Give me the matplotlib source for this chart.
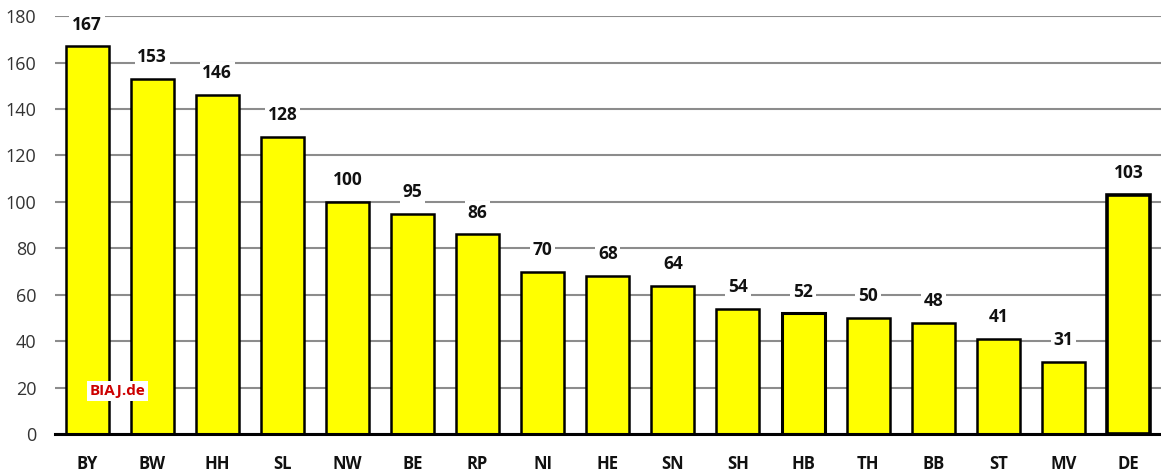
import matplotlib
matplotlib.use("Agg")
import matplotlib.pyplot as plt

categories = ["BY", "BW", "HH", "SL", "NW", "BE", "RP", "NI", "HE", "SN", "SH", "HB", "TH", "BB", "ST", "MV", "DE"]
values = [167, 153, 146, 128, 100, 95, 86, 70, 68, 64, 54, 52, 50, 48, 41, 31, 103]
yticks = [0, 20, 40, 60, 80, 100, 120, 140, 160, 180]

plt.rcParams['font.family'] = ['Open Sans', 'DejaVu Sans']

fig = plt.figure(figsize=(11.61, 4.75), dpi=100)
ax = fig.add_axes([0.047, 0.086, 0.953, 0.880])

x = list(range(len(categories)))
lws = [1.8] * len(categories)
lws[categories.index("HB")] = 2.2
lws[categories.index("DE")] = 2.6
bars = ax.bar(x, values, width=0.66, color="#FFFF00", edgecolor="black", linewidth=lws, zorder=3)

for xi, v in zip(x, values):
    ax.text(xi, v + 5.5, str(v), ha="center", va="bottom", fontsize=12.5, fontweight="bold",
            color="#111111", bbox=dict(facecolor="white", edgecolor="none", pad=2), zorder=4)

ax.set_xlim(-0.5, len(categories) - 0.5)
ax.set_ylim(0, 180)
ax.set_yticks(yticks)
ax.set_yticklabels([str(t) for t in yticks], fontsize=13, color="#333333")
ax.set_xticks(x)
ax.set_xticklabels(categories, fontsize=12, fontweight="bold", color="#111111")
ax.tick_params(axis="y", length=0, pad=13)
ax.tick_params(axis="x", length=0, pad=15)
ax.yaxis.grid(True, color="#8c8c8c", linewidth=1.5, zorder=0)
for s in ["left", "right", "top"]:
    ax.spines[s].set_visible(False)
ax.spines["bottom"].set_linewidth(2.2)
ax.spines["bottom"].set_zorder(5)

ax.text(0.47, 18.5, "BIAJ.de", ha="center", va="center", fontsize=11, fontweight="bold",
        color="#CC0000", bbox=dict(facecolor="white", edgecolor="none", pad=2), zorder=5)

fig.savefig("out.png", dpi=100)
